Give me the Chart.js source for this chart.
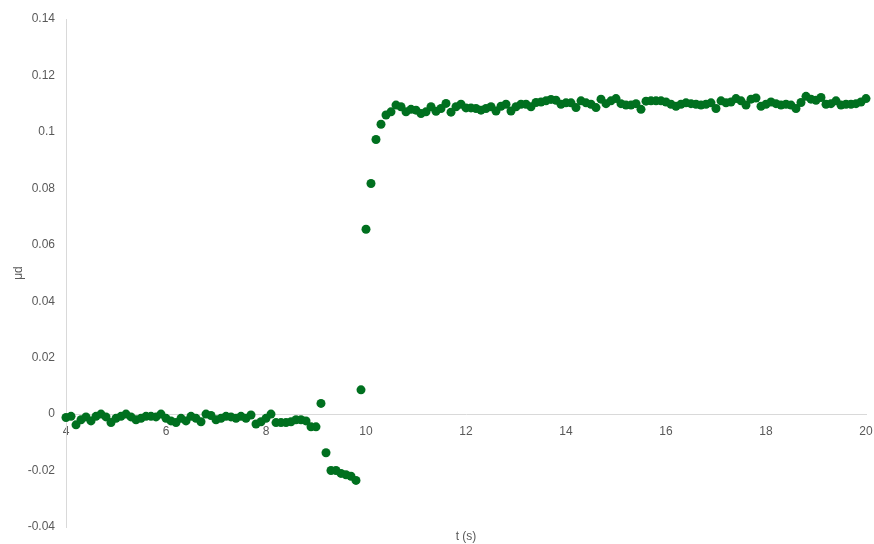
<!DOCTYPE html>
<html>
<head>
<meta charset="utf-8">
<script src="https://cdn.jsdelivr.net/npm/chart.js@4.4.1/dist/chart.umd.min.js"></script>
<style>
  html, body { margin: 0; padding: 0; background: #fff; }
  #wrap { width: 874px; height: 544px; }
</style>
</head>
<body>
<div id="wrap"><canvas id="chart"></canvas></div>
<script>
const TIMES = [
  4.0, 4.1, 4.2, 4.3, 4.4, 4.5, 4.6, 4.7, 4.8, 4.9,
  5.0, 5.1, 5.2, 5.3, 5.4, 5.5, 5.6, 5.7, 5.8, 5.9,
  6.0, 6.1, 6.2, 6.3, 6.4, 6.5, 6.6, 6.7, 6.8, 6.9,
  7.0, 7.1, 7.2, 7.3, 7.4, 7.5, 7.6, 7.7, 7.8, 7.9,
  8.0, 8.1, 8.2, 8.3, 8.4, 8.5, 8.6, 8.7, 8.8, 8.9,
  9.0, 9.1, 9.2, 9.3, 9.4, 9.5, 9.6, 9.7, 9.8, 9.9,
  10.0, 10.1, 10.2, 10.3, 10.4, 10.5, 10.6, 10.7, 10.8, 10.9,
  11.0, 11.1, 11.2, 11.3, 11.4, 11.5, 11.6, 11.7, 11.8, 11.9,
  12.0, 12.1, 12.2, 12.3, 12.4, 12.5, 12.6, 12.7, 12.8, 12.9,
  13.0, 13.1, 13.2, 13.3, 13.4, 13.5, 13.6, 13.7, 13.8, 13.9,
  14.0, 14.1, 14.2, 14.3, 14.4, 14.5, 14.6, 14.7, 14.8, 14.9,
  15.0, 15.1, 15.2, 15.3, 15.4, 15.5, 15.6, 15.7, 15.8, 15.9,
  16.0, 16.1, 16.2, 16.3, 16.4, 16.5, 16.6, 16.7, 16.8, 16.9,
  17.0, 17.1, 17.2, 17.3, 17.4, 17.5, 17.6, 17.7, 17.8, 17.9,
  18.0, 18.1, 18.2, 18.3, 18.4, 18.5, 18.6, 18.7, 18.8, 18.9,
  19.0, 19.1, 19.2, 19.3, 19.4, 19.5, 19.6, 19.7, 19.8, 19.9,
  20.0
];

const MU_D = [
  -0.0012, -0.0008, -0.0038, -0.002, -0.001, -0.0024, -0.0008, 0, -0.001, -0.003,
  -0.0015, -0.0008, 0, -0.001, -0.002, -0.0015, -0.0008, -0.0008, -0.001, 0,
  -0.0015, -0.0024, -0.003, -0.0015, -0.0024, -0.0008, -0.0015, -0.0027, 0, -0.0005,
  -0.002, -0.0015, -0.0008, -0.001, -0.0015, -0.0008, -0.0015, -0.0003, -0.0035, -0.0027,
  -0.0015, 0, -0.003, -0.003, -0.003, -0.0027, -0.002, -0.002, -0.0024, -0.0045,
  -0.0045, 0.0038, -0.0137, -0.02, -0.02, -0.021, -0.0215, -0.022, -0.0235, 0.0086,
  0.0655, 0.0817, 0.0973, 0.1027, 0.106, 0.1071, 0.1095, 0.1089, 0.1071, 0.108,
  0.1077, 0.1065, 0.1071, 0.1089, 0.1073, 0.1083, 0.1101, 0.107, 0.1089, 0.1098,
  0.1085, 0.1085, 0.1083, 0.1077, 0.1083, 0.1089, 0.1074, 0.1091, 0.1098, 0.1074,
  0.1089, 0.1098, 0.1098, 0.1089, 0.1104, 0.1106, 0.111, 0.1115, 0.1112, 0.1098,
  0.1103, 0.1103, 0.1086, 0.111, 0.1103, 0.1098, 0.1086, 0.1116, 0.11, 0.111,
  0.1118, 0.11, 0.1095, 0.1095, 0.11, 0.108, 0.1109, 0.111, 0.111, 0.111,
  0.1106, 0.1098, 0.1091, 0.1098, 0.1103, 0.11, 0.1098, 0.1095, 0.1098, 0.1103,
  0.1083, 0.111, 0.1103, 0.1106, 0.1118, 0.111, 0.1095, 0.1116, 0.112, 0.1091,
  0.1098, 0.1106, 0.11, 0.1095, 0.1098, 0.1095, 0.1083, 0.1104, 0.1126, 0.1116,
  0.1112, 0.1122, 0.1098, 0.11, 0.111, 0.1095, 0.1098, 0.1098, 0.11, 0.1106,
  0.1118
];

const X_MIN = 4, X_MAX = 20, X_STEP = 2;
const Y_MIN = -0.04, Y_MAX = 0.14, Y_STEP = 0.02;

const POINT_COLOR = '#00701f';
const AXIS_COLOR = '#d9d9d9';
const TEXT_COLOR = '#595959';
const FONT = { family: 'Liberation Sans, Arial, sans-serif', size: 12 };

// labels may hang past the plot edges, like in the spreadsheet chart
function noOverhang(scale) {
  scale.paddingLeft = 0;
  scale.paddingRight = 0;
  scale.paddingTop = 0;
  scale.paddingBottom = 0;
}

new Chart(document.getElementById('chart').getContext('2d'), {
  type: 'scatter',
  data: {
    datasets: [{
      label: 'μd',
      data: TIMES.map((t, i) => ({ x: t, y: MU_D[i] })),
      backgroundColor: POINT_COLOR,
      borderColor: POINT_COLOR,
      borderWidth: 0,
      pointRadius: 4.5,
      pointHoverRadius: 4.5,
      clip: false
    }]
  },
  options: {
    responsive: true,
    maintainAspectRatio: false,
    animation: false,
    layout: { padding: { top: 19, right: 8, bottom: 0, left: 11 } },
    plugins: {
      legend: { display: false },
      tooltip: { enabled: false }
    },
    scales: {
      x: {
        type: 'linear',
        position: { y: 0 },
        min: X_MIN,
        max: X_MAX,
        ticks: { stepSize: X_STEP, color: TEXT_COLOR, font: FONT, padding: 10, maxRotation: 0 },
        grid: { drawOnChartArea: false, drawTicks: false },
        border: { display: true, color: AXIS_COLOR, width: 1 },
        afterFit: noOverhang
      },
      // bottom axis only carries the title, centred under the plot
      xTitle: {
        type: 'linear',
        position: 'bottom',
        min: X_MIN,
        max: X_MAX,
        ticks: { display: false },
        grid: { display: false, drawTicks: false },
        border: { display: false },
        title: { display: true, text: 't (s)', color: TEXT_COLOR, font: FONT, padding: { top: 2, bottom: 0 } },
        afterFit: (scale) => { noOverhang(scale); scale.height = 17; }
      },
      y: {
        min: Y_MIN,
        max: Y_MAX,
        ticks: {
          stepSize: Y_STEP,
          color: TEXT_COLOR,
          font: FONT,
          padding: 11,
          callback: (v) => String(parseFloat(Number(v).toFixed(2)))
        },
        title: { display: true, text: 'μd', color: TEXT_COLOR, font: FONT, padding: { top: 0, bottom: 0 } },
        grid: { drawOnChartArea: false, drawTicks: false },
        border: { display: true, color: AXIS_COLOR, width: 1 },
        afterFit: (scale) => { noOverhang(scale); scale.width = 55; }
      }
    }
  }
});
</script>
</body>
</html>
